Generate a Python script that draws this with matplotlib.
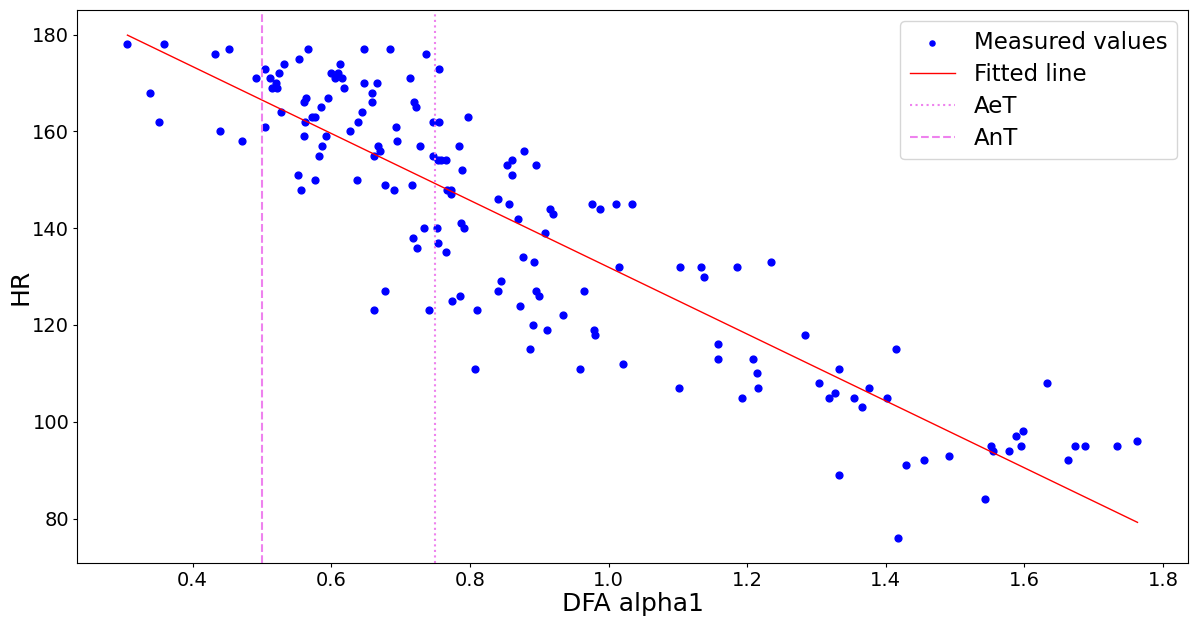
import numpy as np
import matplotlib
matplotlib.use("Agg")
import matplotlib.pyplot as plt

dfa_alpha1 = [
    0.306, 0.359, 0.339, 0.352, 0.432, 0.453, 0.439, 0.471, 0.492, 0.504,
    0.512, 0.524, 0.532, 0.521, 0.515, 0.522, 0.505, 0.527, 0.553, 0.566,
    0.560, 0.564, 0.562, 0.561, 0.552, 0.556, 0.576, 0.572, 0.577, 0.585,
    0.595, 0.593, 0.586, 0.583, 0.600, 0.610, 0.612, 0.606, 0.616, 0.619,
    0.627, 0.647, 0.685, 0.736, 0.755, 0.713, 0.647, 0.666, 0.659, 0.659,
    0.720, 0.722, 0.644, 0.639, 0.693, 0.695, 0.668, 0.670, 0.662, 0.728,
    0.747, 0.755, 0.797, 0.784, 0.747, 0.754, 0.759, 0.766, 0.789, 0.637,
    0.678, 0.691, 0.716, 0.767, 0.773, 0.773, 0.840, 0.854, 0.861, 0.861,
    0.878, 0.896, 0.857, 0.869, 0.916, 0.920, 0.908, 0.976, 0.987, 1.011,
    1.034, 1.015, 0.734, 0.753, 0.718, 0.723, 0.754, 0.787, 0.791, 0.765,
    0.877, 0.893, 0.678, 0.661, 0.741, 0.774, 0.786, 0.810, 0.841, 0.845,
    0.872, 0.895, 0.900, 0.934, 0.964, 0.891, 0.911, 0.979, 0.980, 0.886,
    0.807, 0.959, 1.021, 1.103, 1.134, 1.138, 1.186, 1.235, 1.158, 1.158,
    1.208, 1.214, 1.216, 1.101, 1.192, 1.283, 1.304, 1.333, 1.326, 1.318,
    1.354, 1.365, 1.375, 1.401, 1.415, 1.333, 1.418, 1.429, 1.455, 1.491,
    1.543, 1.551, 1.554, 1.577, 1.588, 1.598, 1.595, 1.632, 1.663, 1.673,
    1.688, 1.733, 1.763,
]
hr = [
    178, 178, 168, 162, 176, 177, 160, 158, 171, 173,
    171, 172, 174, 170, 169, 169, 161, 164, 175, 177,
    166, 167, 162, 159, 151, 148, 150, 163, 163, 165,
    167, 159, 157, 155, 172, 172, 174, 171, 171, 169,
    160, 177, 177, 176, 173, 171, 170, 170, 168, 166,
    166, 165, 164, 162, 161, 158, 157, 156, 155, 157,
    162, 162, 163, 157, 155, 154, 154, 154, 152, 150,
    149, 148, 149, 148, 148, 147, 146, 153, 154, 151,
    156, 153, 145, 142, 144, 143, 139, 145, 144, 145,
    145, 132, 140, 140, 138, 136, 137, 141, 140, 135,
    134, 133, 127, 123, 123, 125, 126, 123, 127, 129,
    124, 127, 126, 122, 127, 120, 119, 119, 118, 115,
    111, 111, 112, 132, 132, 130, 132, 133, 116, 113,
    113, 110, 107, 107, 105, 118, 108, 111, 106, 105,
    105, 103, 107, 105, 115, 89, 76, 91, 92, 93,
    84, 95, 94, 94, 97, 98, 95, 108, 92, 95,
    95, 95, 96,
]
aet_threshold = 0.75
ant_threshold = 0.5

x = np.array(dfa_alpha1)
y = np.array(hr)
slope, intercept = np.polyfit(x, y, 1)
xfit = np.array([x.min(), x.max()])
yfit = slope * xfit + intercept

fig = plt.figure(figsize=(11.93, 6.17), dpi=100)
ax = fig.add_axes([0.0645, 0.0875, 0.9313, 0.8963])
ax.scatter(x, y, s=24, color="blue", label="Measured values")
ax.plot(xfit, yfit, color="red", linewidth=1, label="Fitted line")
ax.axvline(aet_threshold, color="violet", linestyle=":", linewidth=1.5, label="AeT")
ax.axvline(ant_threshold, color="violet", linestyle="--", linewidth=1.5, label="AnT")
ax.set_xlabel("DFA alpha1", fontsize=18, labelpad=2)
ax.set_ylabel("HR", fontsize=18, labelpad=0)
ax.tick_params(labelsize=14, pad=2.5, length=3)
ax.legend(fontsize=16.5, loc="upper right", markerscale=0.75, labelspacing=0.4)
fig.savefig("out.png", dpi=100)
